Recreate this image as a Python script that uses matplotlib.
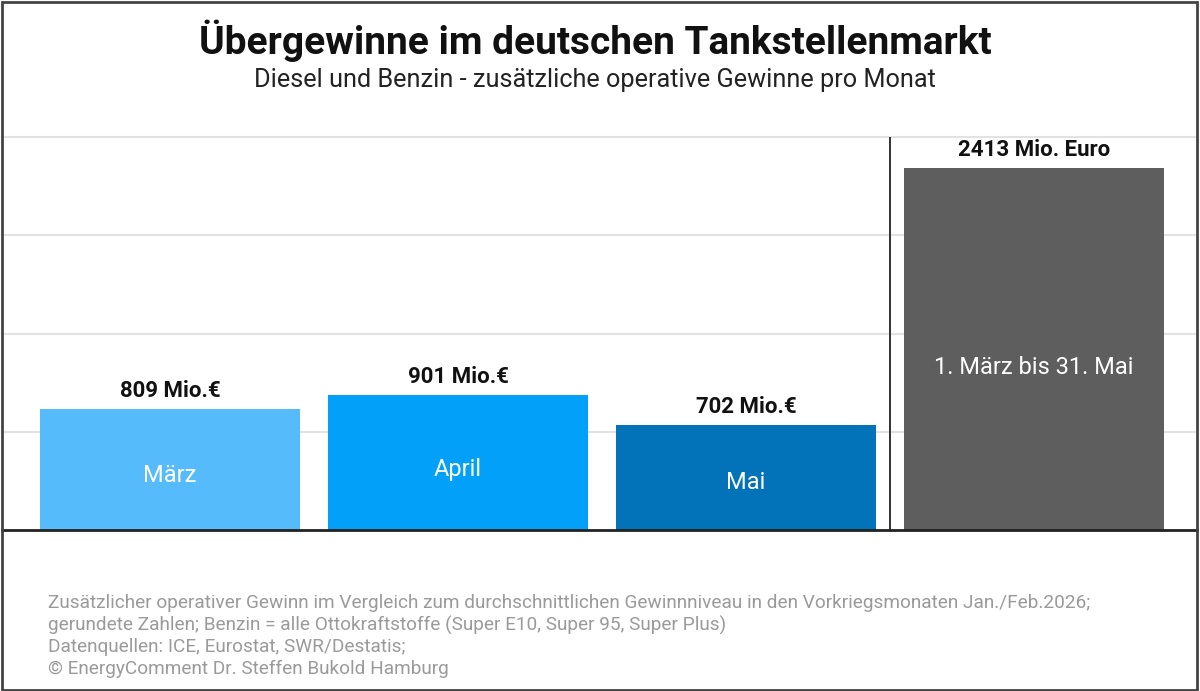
import numpy as np
import matplotlib.pyplot as plt
from matplotlib.patches import Rectangle

plt.rcParams['font.family'] = ['Roboto', 'DejaVu Sans']

monate = ["März", "April", "Mai", "1. März bis 31. Mai"]
gewinne = [809, 901, 702, 2413]
werte_text = ["809 Mio.€", "901 Mio.€", "702 Mio.€", "2413 Mio. Euro"]
farben = ["#55BBFB", "#03A0FA", "#0272B9", "#5E5E5E"]

titel = "Übergewinne im deutschen Tankstellenmarkt"
untertitel = "Diesel und Benzin - zusätzliche operative Gewinne pro Monat"
fussnote = ("Zusätzlicher operativer Gewinn im Vergleich zum durchschnittlichen Gewinnniveau in den Vorkriegsmonaten Jan./Feb.2026;\n"
            "gerundete Zahlen; Benzin = alle Ottokraftstoffe (Super E10, Super 95, Super Plus)\n"
            "Datenquellen: ICE, Eurostat, SWR/Destatis;\n"
            "© EnergyComment Dr. Steffen Bukold Hamburg")

W, H = 1200, 691
fig = plt.figure(figsize=(W / 100, H / 100), dpi=100)
ax = fig.add_axes([2 / W, (H - 530) / H, 1195 / W, 393 / H])

x = np.arange(len(gewinne))
ax.bar(x, gewinne, width=0.905, color=farben, zorder=2)

ymax = 2620
ax.set_ylim(0, ymax)
ax.set_xlim(-0.583, 3.566)
for g in np.linspace(0, ymax, 5)[1:]:
    ax.axhline(g, color="#E2E2E2", lw=1.5, zorder=1, clip_on=False)

# Trennlinie zwischen Monaten und Summe
ax.axvline(2.5, color="#222222", lw=1.3, zorder=3)

for xi, v, t, m in zip(x, gewinne, werte_text, monate):
    ax.annotate(t, (xi, v), xytext=(0, 5), textcoords="offset points",
                ha="center", va="bottom", fontsize=16, fontweight="bold", color="#111111")
    ax.text(xi, v * 0.45, m, ha="center", va="center", fontsize=17, color="white", zorder=4)

ax.set_xticks([])
ax.set_yticks([])
for s in ["top", "left", "right"]:
    ax.spines[s].set_visible(False)
ax.spines["bottom"].set_color("#222222")
ax.spines["bottom"].set_linewidth(2)
ax.set_facecolor("none")

fig.text(0.496, 1 - 41 / H, titel, ha="center", va="center", fontsize=28, fontweight="bold", color="#111111")
fig.text(0.496, 1 - 80 / H, untertitel, ha="center", va="center", fontsize=18.2, color="#222222")
fig.text(48 / W, 1 - 594 / H, fussnote, ha="left", va="top", fontsize=13.7, color="#9A9A9A", linespacing=1.25)

fig.add_artist(Rectangle((1.5 / W, 1.5 / H), 1 - 4.5 / W, 1 - 3 / H, transform=fig.transFigure,
                         fill=False, ec="#444444", lw=2))

fig.savefig("out.png", dpi=100)
